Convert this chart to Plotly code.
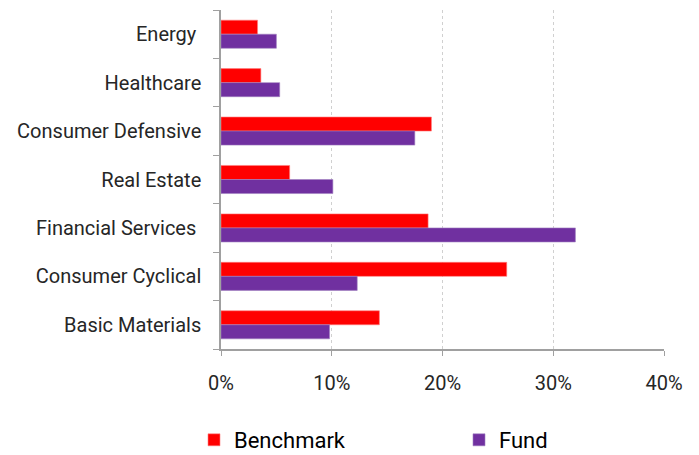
import plotly.graph_objects as go

categories = ["Energy", "Healthcare", "Consumer Defensive", "Real Estate",
              "Financial Services", "Consumer Cyclical", "Basic Materials"]
category_labels = ["Energy\u00a0", "Healthcare", "Consumer Defensive", "Real Estate",
                   "Financial Services\u00a0", "Consumer Cyclical", "Basic Materials"]
benchmark = [3.3, 3.6, 19.0, 6.2, 18.7, 25.8, 14.3]
fund = [5.0, 5.3, 17.5, 10.1, 32.0, 12.3, 9.8]
x_ticks = [0, 10, 20, 30, 40]
x_tick_labels = ["0%", "10%", "20%", "30%", "40%"]

FONT = "Roboto, sans-serif"
W, H = 691, 447  # page body adds an 8px offset

fig = go.Figure()
fig.add_trace(go.Bar(y=categories, x=benchmark, name="Benchmark", orientation="h",
                     legend="legend",
                     marker=dict(color="#FF0000", line=dict(color="#FF8080", width=0.6))))
fig.add_trace(go.Bar(y=categories, x=fund, name="Fund", orientation="h",
                     legend="legend2",
                     marker=dict(color="#7030A0", line=dict(color="#A080C0", width=0.6))))

leg_common = dict(xref="container", yref="container", xanchor="left", yanchor="middle",
                  y=1 - 432 / H, font=dict(family=FONT, size=22, color="#000000"),
                  itemwidth=30, bgcolor="rgba(0,0,0,0)")

fig.update_layout(
    width=W, height=H,
    margin=dict(l=213, r=35, t=2, b=106, autoexpand=False),
    paper_bgcolor="white", plot_bgcolor="white",
    barmode="group", bargap=0.42, bargroupgap=0,
    font=dict(family=FONT, size=20, color="#262626"),
    showlegend=True,
    legend=dict(x=186 / W, **leg_common),
    legend2=dict(x=451 / W, **leg_common),
)
fig.update_xaxes(range=[0, 40], tickvals=x_ticks, ticktext=x_tick_labels, tickangle=0,
                 showgrid=True, gridcolor="#D0D0D0", griddash="dot", gridwidth=1,
                 showline=True, linecolor="#A0A0A0", linewidth=1.5,
                 ticks="outside", ticklen=5, tickcolor="#A0A0A0",
                 ticklabelstandoff=10, zeroline=False, automargin=False)
fig.update_yaxes(autorange="reversed", showline=True, linecolor="#A0A0A0", linewidth=1.5,
                 tickvals=categories, ticktext=category_labels,
                 ticks="outside", ticklen=6, tickcolor="#A0A0A0", tickson="boundaries",
                 ticklabelstandoff=14, showgrid=False, automargin=False)

fig.write_html("out.html")
